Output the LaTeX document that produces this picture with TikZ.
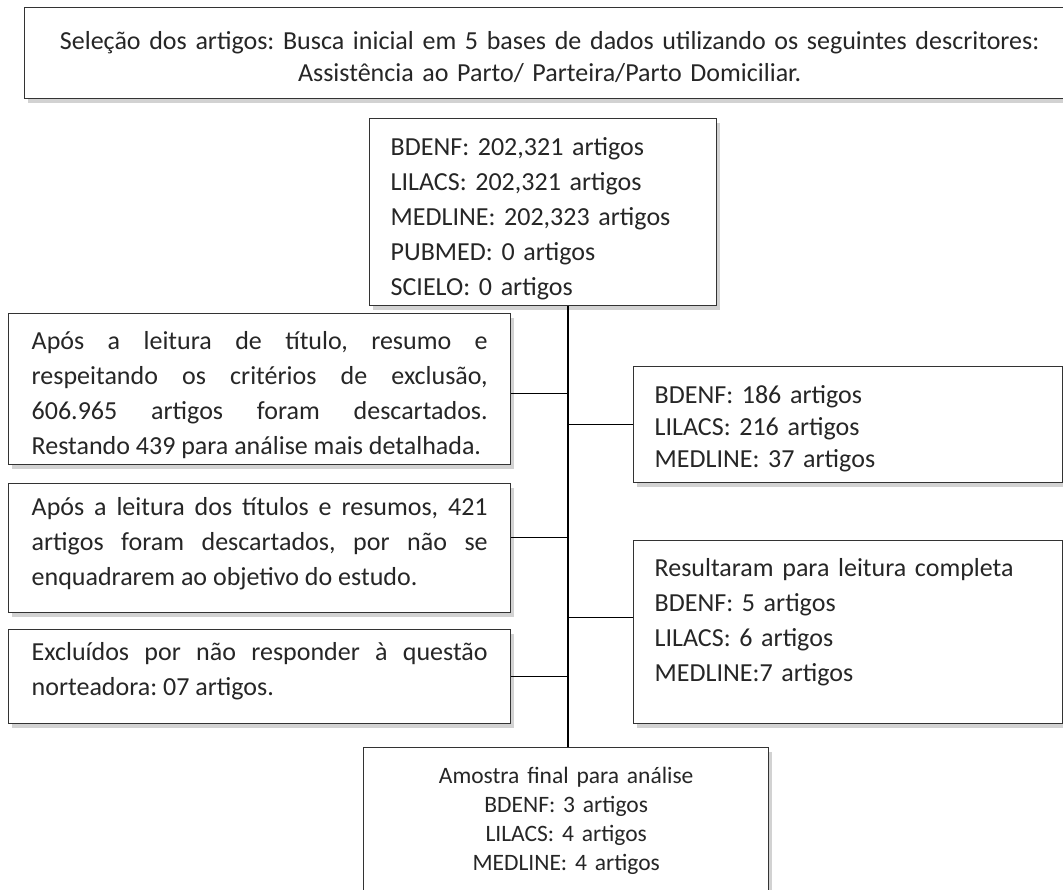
\documentclass[tikz,border=0pt]{standalone}
\usepackage{fontspec}
\setmainfont{Carlito}
\frenchspacing
\usetikzlibrary{positioning,shadows}
\tikzset{block/.style={draw=black!80,line width=1.4pt,fill=white,anchor=north west,
           inner xsep=21pt,inner ysep=0pt,text=black!85,
           drop shadow={shadow xshift=3pt,shadow yshift=-4pt,opacity=0.35},
           font=\fontsize{26}{35}\selectfont},
         link/.style={line width=1.3pt}
}
\tikzstyle{leftblock} = [block,inner xsep=23pt,minimum width=502pt,text width=456pt,align=justify]
\tikzstyle{rightblock} = [block,minimum width=429pt,text width=387pt,align=left]
% struts that move the text of a centred box down (top) or up (bot)
\newcommand{\topgap}[1]{\rule{0pt}{#1}}
\newcommand{\botgap}[1]{\rule[-#1]{0pt}{#1}}

\begin{document}
\begin{tikzpicture}[x=1pt,y=-1pt]
\useasboundingbox[fill=white] (0,0) rectangle (1063,890);

\node[block,minimum width=1050pt,minimum height=91pt,text width=1008pt,align=center,font=\fontsize{26}{32}\selectfont] (search) at (24,7) {\topgap{25.5pt}Seleção dos artigos: Busca inicial em 5 bases de dados utilizando os seguintes descritores:\\ Assistência ao Parto/ Parteira/Parto Domiciliar.};
\node[block,minimum width=347pt,minimum height=187pt,text width=305pt,align=left] (bases) at (369,118) {\topgap{31.5pt}BDENF: 202,321 artigos\\ LILACS: 202,321 artigos\\ MEDLINE: 202,323 artigos\\ PUBMED: 0 artigos\\ SCIELO: 0 artigos};
\node[leftblock,minimum height=151pt] (triagem) at (8,313) {\parfillskip=0pt \topgap{29pt}Após a leitura de título, resumo e\linebreak respeitando os critérios de exclusão,\linebreak 606.965 artigos foram descartados.\linebreak Restando 439 para análise mais detalhada.};
\node[rightblock,minimum height=116pt,font=\fontsize{26}{32}\selectfont] (restantes) at (633,366) {\topgap{26.5pt}BDENF: 186 artigos\\ LILACS: 216 artigos\\ MEDLINE: 37 artigos};
\node[leftblock,minimum height=129pt] (titulos) at (8,483) {Após a leitura dos títulos e resumos, 421\linebreak artigos foram descartados, por não se\linebreak enquadrarem ao objetivo do estudo.\botgap{13.5pt}};
\node[rightblock,minimum height=183pt] (completa) at (633,540) {Resultaram para leitura completa\\ BDENF: 5 artigos\\ LILACS: 6 artigos\\ MEDLINE:7 artigos\botgap{24pt}};
\node[leftblock,minimum height=94pt] (excluidos) at (8,629) {Excluídos por não responder à questão\linebreak norteadora: 07 artigos.\botgap{15pt}};
\node[block,minimum width=405pt,minimum height=160pt,text width=363pt,align=center,font=\fontsize{23.5}{29}\selectfont] (final) at (363,747) {Amostra final para análise\\ BDENF: 3 artigos\\ LILACS: 4 artigos\\ MEDLINE: 4 artigos\botgap{17.5pt}};

\coordinate (spine) at (568,0);
\draw[link] (spine |- bases.south) -- (spine |- final.north);
\draw[link] ([yshift=-4.5pt]triagem.east) -- ([yshift=-4.5pt]triagem.east -| spine);
\draw[link] (restantes.west) -- (restantes.west -| spine);
\draw[link] ([yshift=11pt]titulos.east) -- ([yshift=11pt]titulos.east -| spine);
\draw[link] ([yshift=14.5pt]completa.west) -- ([yshift=14.5pt]completa.west -| spine);
\draw[link] (excluidos.east) -- (excluidos.east -| spine);

\end{tikzpicture}
\end{document}
